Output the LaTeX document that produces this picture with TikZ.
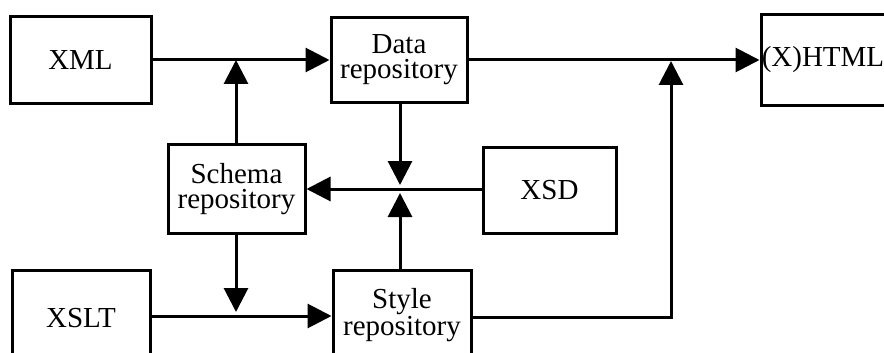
\documentclass[tikz,border=0pt]{standalone}
\usepackage{fontspec}
\setmainfont{Liberation Serif}
\usetikzlibrary{arrows.meta}
\begin{document}
\begin{tikzpicture}[x=1pt,y=-1pt,line width=3pt,
  box/.style={draw,line width=3pt,inner sep=0pt,align=center,
    font=\fontsize{29}{25}\selectfont},
  arr/.style={-{Triangle[length=24pt,width=24pt]},line width=3pt}]
\useasboundingbox[fill=white] (0,0) rectangle (884,353);

% boxes
\node[box,minimum width=141pt,minimum height=86pt] (xml)    at (80.5,60)  {XML};
\node[box,minimum width=136pt,minimum height=85pt] (data)   at (399,60)   {Data\\repository};
\node[box,minimum width=130pt,minimum height=90pt] (html)   at (826,60)   {\hspace*{-6pt}(X)HTML};
\node[box,minimum width=137pt,minimum height=89pt] (schema) at (236.5,189) {Schema\\repository};
\node[box,minimum width=133pt,minimum height=86pt] (xsd)    at (549.5,190) {XSD};
\node[box,minimum width=138pt,minimum height=96pt] (xslt)   at (81,318)   {XSLT};
\node[box,minimum width=138pt,minimum height=90pt] (style)  at (402,315)  {Style\\repository};

% junction points on the connectors
\coordinate (j1) at (236,60);
\coordinate (j2) at (400,185);
\coordinate (j3) at (400,193);
\coordinate (j4) at (236,312);
\coordinate (j5) at (671,317);
\coordinate (j6) at (671,61);

% connectors
\draw[arr] (xml.east |- 0,60) -- (data.west |- 0,60);
\draw[arr] (data.east |- 0,60) -- (html.west |- 0,60);
\draw[arr] (schema.north -| j1) -- (j1);
\draw[arr] (data.south -| j2) -- (j2);
\draw[arr] (style.north -| j3) -- (j3);
\draw[arr] (xsd.west |- 0,189) -- (schema.east |- 0,189);
\draw[arr] (schema.south -| j4) -- (j4);
\draw[arr] (xslt.east |- 0,316) -- (style.west |- 0,316);
\draw[arr] (style.east |- j5) -- (j5) -- (j6);
\end{tikzpicture}
\end{document}
